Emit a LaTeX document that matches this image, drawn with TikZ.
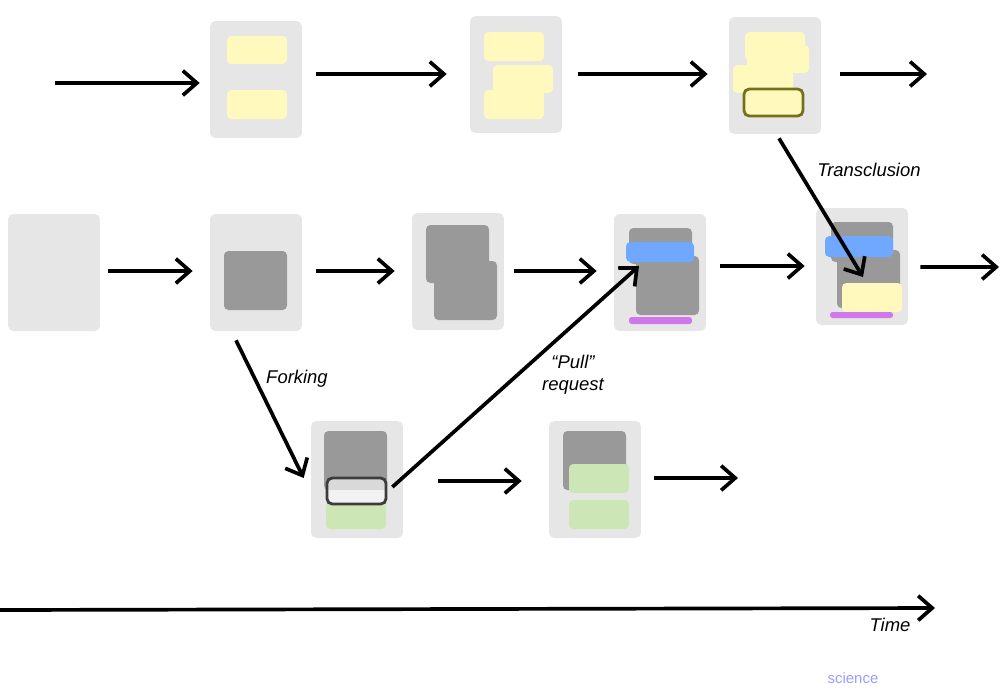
\documentclass[tikz,border=0pt]{standalone}
\usepackage{fontspec}
\setmainfont{Liberation Sans}
\usepackage{tikz}
\usetikzlibrary{arrows.meta}
\usetikzlibrary{calc}

\definecolor{cardgray}{HTML}{E6E6E6}
\definecolor{docgray}{HTML}{999999}
\definecolor{noteyellow}{HTML}{FFF9BE}
\definecolor{noteblue}{HTML}{70A8FF}
\definecolor{notepurple}{HTML}{CF78EC}
\definecolor{notegreen}{HTML}{CDE6B5}
\definecolor{olivering}{HTML}{75711A}
\definecolor{greyring}{HTML}{3C3C3C}
\definecolor{faintblue}{HTML}{9C9CFF}

\tikzset{
  card/.style={fill=cardgray,rounded corners=3pt,minimum width=1.84cm,minimum height=2.34cm,inner sep=0pt},
  doc/.style={fill=docgray,rounded corners=2.5pt},
  yellownote/.style={fill=noteyellow,rounded corners=2.5pt},
  bluenote/.style={fill=noteblue,rounded corners=2.5pt},
  purplenote/.style={fill=notepurple,rounded corners=1.5pt},
  greennote/.style={fill=notegreen,rounded corners=2.5pt},
  ring/.style={line width=1.6pt,rounded corners=3pt},
  flow/.style={line width=2.1pt,>={Straight Barb[length=8pt,width=14pt]},
    every edge/.style={draw,->}},
  lbl/.style={font=\itshape\fontsize{10.5}{12.5}\selectfont,inner sep=0pt}
}

\begin{document}
\begin{tikzpicture}[x=0.02cm,y=-0.02cm]

  \useasboundingbox (0,0) rectangle (1001,698);

  % cards
  \node [card] (A1) at (256,79.5) {};
  \node [card] (A2) at (516,74.5) {};
  \node [card] (A3) at (775,75.5) {};
  \node [card] (B0) at (54,272.5) {};
  \node [card] (B1) at (256,272.5) {};
  \node [card] (B2) at (458,271.5) {};
  \node [card] (B3) at (660,272.5) {};
  \node [card] (B4) at (862,266.5) {};
  \node [card] (C1) at (357,479.5) {};
  \node [card] (C2) at (595,479.5) {};

  % top row
  \fill [yellownote] (227,36) rectangle (287,64);
  \fill [yellownote] (227,90) rectangle (287,119);
  \fill [yellownote] (484,32) rectangle (544,61);
  \fill [yellownote] (493,65) rectangle (553,93);
  \fill [yellownote] (484,90) rectangle (544,119);
  \fill [yellownote] (745,32) rectangle (805,60);
  \fill [yellownote] (747,45) rectangle (809,73);
  \fill [yellownote] (733,65) rectangle (793,93);
  \draw [ring,draw=olivering,fill=noteyellow] (744,89) rectangle (803,116);

  % middle row
  \fill [doc] (224,251) rectangle (287,310);
  \fill [doc] (426,225) rectangle (489,283);
  \fill [doc] (434,261) rectangle (497,320);
  \fill [doc] (629,228) rectangle (692,264);
  \fill [doc] (636,256) rectangle (699,315);
  \fill [bluenote] (626,242) rectangle (694,262);
  \fill [purplenote] (629,317) rectangle (692,324);
  \fill [doc] (831,222) rectangle (893,262);
  \fill [doc] (837,250) rectangle (900,308);
  \fill [bluenote] (825,236) rectangle (893,257);
  \fill [yellownote] (842,283) rectangle (902,312);
  \fill [purplenote] (830,312) rectangle (893,318);

  % bottom row
  \fill [doc] (324,431) rectangle (387,490);
  \fill [greennote] (326,502) rectangle (386,529);
  \fill [rounded corners=3pt,fill=white!95!black] (327,478) rectangle (386,504);
  \fill [fill=black!15] (328,479) rectangle (385,490);
  \draw [ring,draw=greyring] (327,478) rectangle (386,504);
  \fill [doc] (563,431) rectangle (626,490);
  \fill [greennote] (569,464) rectangle (629,493);
  \fill [greennote] (569,500) rectangle (629,529);

  % free ends
  \coordinate (inA) at (55,83);
  \coordinate (outA) at (927,74);
  \coordinate (outB) at (999,267);
  \coordinate (outC) at (738,478);
  \coordinate (t0) at (0,610);
  \coordinate (t1) at (935,608);

  \path [flow]
    (inA) edge ($(A1.west)+(-10,3.5)$)
    ($(A1.east)+(14,-5.5)$) edge ($(A2.west)+(-23,-0.5)$)
    ($(A2.east)+(16,-0.5)$) edge ($(A3.west)+(-21,-1.5)$)
    ($(A3.east)+(19,-1.5)$) edge (outA);

  \path [flow]
    ($(B0.east)+(8,-1.5)$)  edge ($(B1.west)+(-17,-1.5)$)
    ($(B1.east)+(14,-1.5)$) edge ($(B2.west)+(-17,-0.5)$)
    ($(B2.east)+(10,-0.5)$) edge ($(B3.west)+(-17,-1.5)$)
    ($(B3.east)+(14,-6.5)$) edge ($(B4.west)+(-11,-0.5)$)
    ($(B4.east)+(12,0.5)$)  edge (outB);

  \path [flow]
    ($(C1.east)+(35,1.5)$) edge ($(C2.west)+(-27,1.5)$)
    ($(C2.east)+(13,-1.5)$) edge (outC);

  \path [flow]
    ($(B1.south)+(-20,9)$) edge ($(C1.west)+(-7,-1.5)$)
    ($(C1.east)+(-11,7.5)$) edge ($(B3.center)+(-21,-6.5)$)
    ($(A3.south)+(4,4)$) edge ($(B4.center)+(1,10.5)$)
    (t0) edge (t1);

  \node [lbl] (fork) at (297,379) {Forking};
  \node [lbl,align=center] (pull) at (573,375) {“Pull”\\request};
  \node [lbl] (trans) at (869,170) {Transclusion};
  \node [lbl] (time) at (890,625) {Time};
  \node [font=\fontsize{8.5}{10}\selectfont,text=faintblue,inner sep=0pt] (sci) at (853,678) {science};

\end{tikzpicture}
\end{document}
